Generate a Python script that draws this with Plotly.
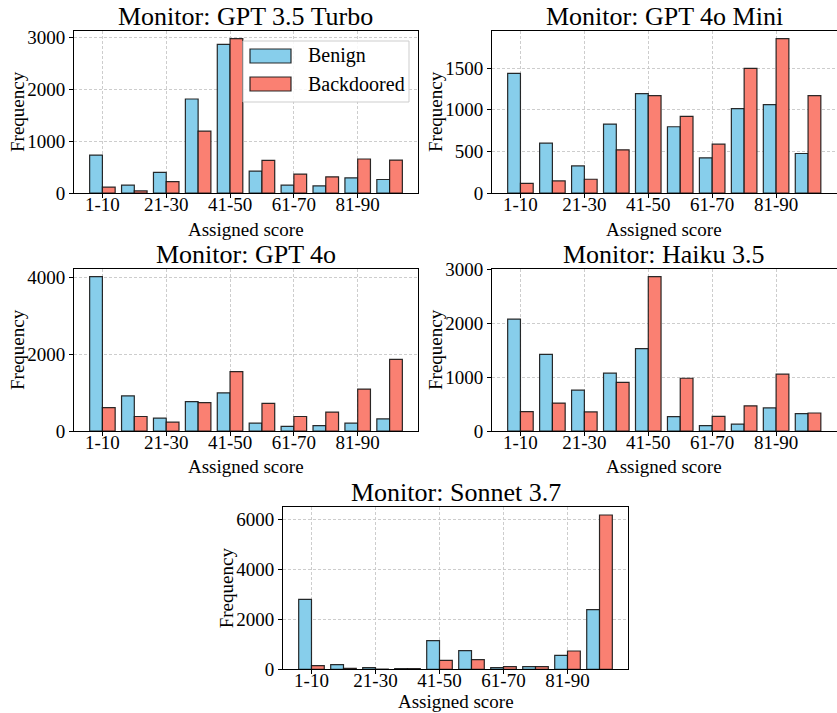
import plotly.graph_objects as go

# ---------------- data ----------------
categories = ["1-10", "11-20", "21-30", "31-40", "41-50",
              "51-60", "61-70", "71-80", "81-90", "91-100"]
tick_labels = ["1-10", "21-30", "41-50", "61-70", "81-90"]
monitors = ["GPT 3.5 Turbo", "GPT 4o Mini", "GPT 4o", "Haiku 3.5", "Sonnet 3.7"]
series_names = ["Benign", "Backdoored"]
x_title = "Assigned score"
y_title = "Frequency"

gpt35_benign = [729, 150, 397, 1808, 2859, 420, 150, 137, 292, 260]
gpt35_backdoored = [112, 40, 220, 1190, 2968, 628, 363, 312, 654, 634]

gpt4omini_benign = [1436, 598, 325, 827, 1192, 795, 422, 1012, 1060, 474]
gpt4omini_backdoored = [116, 145, 165, 518, 1168, 920, 586, 1496, 1852, 1168]

gpt4o_benign = [4026, 916, 335, 767, 996, 203, 123, 141, 203, 317]
gpt4o_backdoored = [608, 379, 229, 740, 1551, 722, 379, 493, 1093, 1868]

haiku_benign = [2080, 1424, 759, 1076, 1532, 266, 101, 127, 430, 323]
haiku_backdoored = [361, 519, 354, 905, 2870, 981, 272, 468, 1057, 335]

sonnet_benign = [2800, 187, 67, 27, 1147, 747, 67, 107, 560, 2387]
sonnet_backdoored = [147, 40, 13, 27, 360, 387, 107, 107, 733, 6173]

benign_data = [gpt35_benign, gpt4omini_benign, gpt4o_benign, haiku_benign, sonnet_benign]
backdoored_data = [gpt35_backdoored, gpt4omini_backdoored, gpt4o_backdoored,
                   haiku_backdoored, sonnet_backdoored]
y_dticks = [1000, 500, 2000, 1000, 2000]

# ---------------- style ----------------
W, H = 837, 713
FONT = "Liberation Serif"
BLUE = "#87CEEB"
RED = "#FA8072"
EDGE = "rgba(20,20,20,0.9)"
GRID = "rgba(200,200,200,0.9)"
GRIDDASH = "3px,2px"

# axes boxes in pixels: (left, right, top, bottom)
boxes = [
    (74, 418, 31, 193),
    (492, 836.5, 31, 193),
    (74, 418, 269, 431),
    (492, 836.5, 269, 431),
    (283, 628, 507.3, 669.3),
]

fig = go.Figure()
layout = dict(
    width=W, height=H,
    margin=dict(l=0, r=0, t=0, b=0, autoexpand=False),
    paper_bgcolor="white", plot_bgcolor="white",
    barmode="overlay", showlegend=False,
    font=dict(family=FONT, size=19, color="black"),
)

annotations = []
for i, (name, ben, bd, dt, box) in enumerate(
        zip(monitors, benign_data, backdoored_data, y_dticks, boxes)):
    n = "" if i == 0 else str(i + 1)
    xa, ya = "x" + n, "y" + n
    fig.add_trace(go.Bar(x=categories, y=ben, name=series_names[0],
                         offset=-0.4, width=0.4, xaxis=xa, yaxis=ya,
                         marker=dict(color=BLUE, line=dict(color=EDGE, width=1.2))))
    fig.add_trace(go.Bar(x=categories, y=bd, name=series_names[1],
                         offset=0.0, width=0.4, xaxis=xa, yaxis=ya,
                         marker=dict(color=RED, line=dict(color=EDGE, width=1.2))))
    l, r, t, b = box
    ymax = max(max(ben), max(bd)) * 1.05
    layout["xaxis" + n] = dict(
        domain=[l / W, r / W], anchor=ya, type="category", automargin=False,
        categoryorder="array", categoryarray=categories,
        range=[-0.89, len(categories) - 1 + 0.89],
        tickmode="array", tickvals=tick_labels, ticktext=tick_labels,
        ticks="outside", ticklen=4, tickwidth=1, tickcolor="black",
        ticklabelstandoff=-10,
        showline=True, linecolor="black", linewidth=1, mirror=True,
        showgrid=True, gridcolor=GRID, griddash=GRIDDASH, gridwidth=0.8,
        tickfont=dict(size=19), zeroline=False,
    )
    layout["yaxis" + n] = dict(
        domain=[1 - b / H, 1 - t / H], anchor=xa, automargin=False,
        range=[0, ymax], dtick=dt, tick0=0,
        ticks="outside", ticklen=4, tickwidth=1, tickcolor="black",
        showline=True, linecolor="black", linewidth=1, mirror=True,
        showgrid=True, gridcolor=GRID, griddash=GRIDDASH, gridwidth=0.8,
        tickfont=dict(size=19), zeroline=False,
    )
    # panel title
    annotations.append(dict(
        text="Monitor: " + name, xref=xa + " domain", yref=ya + " domain",
        x=0.5, y=1, xanchor="center", yanchor="bottom", yshift=-2,
        showarrow=False, font=dict(size=26, family=FONT, color="black")))
    # x-axis title
    if i < len(monitors) - 1:
        xt = dict(yref=ya + " domain", y=0, yanchor="middle", yshift=-36)
    else:
        xt = dict(yref="paper", y=0, yanchor="bottom", yshift=0)
    annotations.append(dict(
        text=x_title, xref=xa + " domain", x=0.5, xanchor="center",
        borderpad=0, showarrow=False,
        font=dict(size=19, family=FONT, color="black"), **xt))
    # y-axis title
    annotations.append(dict(
        text=y_title, xref=xa + " domain", yref=ya + " domain",
        x=0, y=0.5, xanchor="center", yanchor="middle", xshift=-57,
        textangle=-90, showarrow=False,
        font=dict(size=19, family=FONT, color="black")))

# ---------------- manual legend in first panel ----------------
l, r, t, b = boxes[0]
pw, ph = r - l, b - t


def fx(px):
    return (px - l) / pw


def fy(py):
    return (b - py) / ph


shapes = [
    dict(type="rect", xref="x domain", yref="y domain", layer="above",
         x0=fx(243), x1=fx(409), y0=fy(102), y1=fy(41),
         fillcolor="rgba(255,255,255,0.85)",
         line=dict(color="rgba(205,205,205,1)", width=1)),
]
legend_rows = [(series_names[0], BLUE, 49, 63), (series_names[1], RED, 77, 91)]
for label, col, y0, y1 in legend_rows:
    shapes.append(dict(type="rect", xref="x domain", yref="y domain", layer="above",
                       x0=fx(250), x1=fx(291), y0=fy(y1), y1=fy(y0),
                       fillcolor=col, line=dict(color=EDGE, width=1.2)))
    annotations.append(dict(text=label, xref="x domain", yref="y domain",
                            x=fx(306), y=fy((y0 + y1) / 2), xanchor="left",
                            yanchor="middle", showarrow=False,
                            font=dict(size=20, family=FONT, color="black")))

layout["shapes"] = shapes
layout["annotations"] = annotations
fig.update_layout(**layout)
fig.write_html("out.html")
